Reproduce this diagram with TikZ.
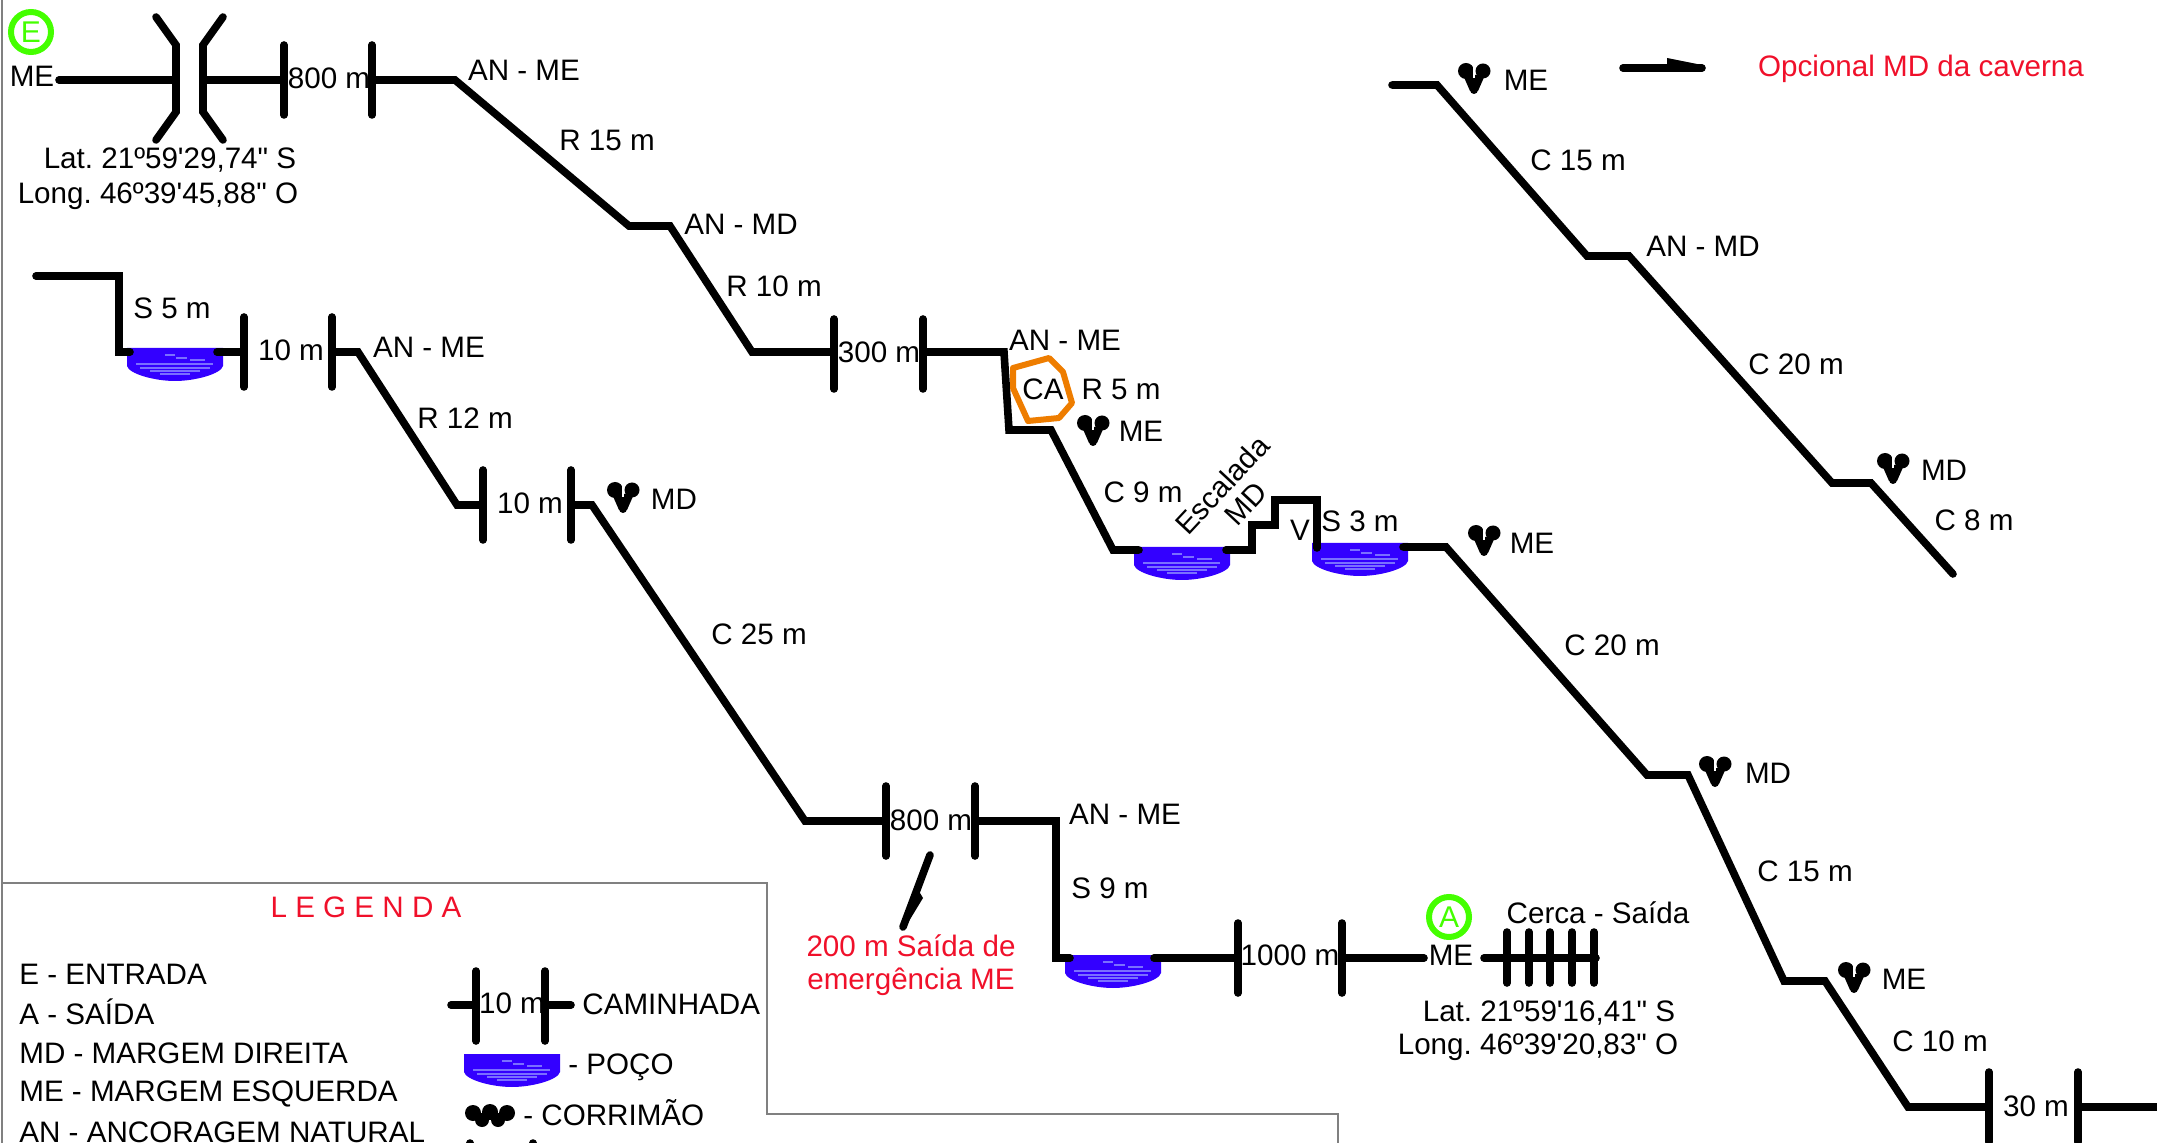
\documentclass[tikz,border=0pt]{standalone}
\usepackage{fontspec}
\setmainfont{Liberation Sans}[Ligatures=TeXOff]
\definecolor{aguaazul}{HTML}{3300FF}
\definecolor{aguaclara}{HTML}{7A70FF}
\definecolor{marcoverde}{HTML}{44FF00}
\definecolor{vermelho}{HTML}{F0102A}
\definecolor{laranja}{HTML}{EE7D00}
\tikzstyle{edge} = [draw,line width=3.8pt,line cap=round,line join=miter]
\tikzstyle{frame} = [draw=black!50,line width=1pt]
\tikzstyle{txt}=[inner sep=0pt,font=\fontsize{14.8pt}{16pt}\selectfont]
\tikzstyle{txtred}=[txt,text=vermelho]
\tikzstyle{legenda}=[txt,anchor=west]
\tikzstyle{marco}=[circle,draw=marcoverde,line width=3pt,text=marcoverde,minimum size=20pt,inner sep=0pt,font=\fontsize{15pt}{16pt}\selectfont]
\tikzset{
  pics/poco/.style={code={
    \fill[aguaazul] (-48,0) -- (48,0) -- (48,18) .. controls (46,26) and (20,33) .. (0,33) .. controls (-20,33) and (-46,26) .. (-48,18) -- cycle;
    \foreach \ya/\xa/\xb in {7/-10/0, 10/1/12, 12/15/30, 16/-39/38, 20/-35/35, 23/-25/25, 26/-15/15}
        \draw[aguaclara,line width=0.7pt] (\xa,\ya) -- (\xb,\ya);
  }},
  pics/corrimao/.style={code={
    \fill (-8,-9) circle (8);
    \fill (9,-9) circle (7.5);
    \fill (-11,-5) -- (11,-5) -- (4,11) -- (-4,11) -- cycle;
    \fill (0,10) circle (4);
    \draw[white,line width=0.6pt] (0,-15) -- (0,-2);
  }}
}
\begin{document}
\frenchspacing
\begin{tikzpicture}[x=0.5pt,y=-0.5pt]
    \useasboundingbox (0,0) rectangle (2157,1143);
    % First we draw the legend frame
    \foreach \pos/\name in {{(2,0)/f1}, {(2,1143)/f2}, {(2,883)/f3}, {(767,883)/f4}, {(767,1114)/f5}, {(1338,1114)/f6}, {(1338,1143)/f7}}
        \node[coordinate] (\name) at \pos {};
    \path[frame] (f1) -- (f2);
    \path[frame] (f3) -- (f4) -- (f5) -- (f6) -- (f7);
    % The pools go under the lines
    \foreach \pos in {{(175,348)}, {(1182,547)}, {(1360,543)}, {(1113,955)}, {(512,1054)}}
        \pic at \pos {poco};
    % Corners of the main route
    \foreach \pos/\name in {{(59,80)/e1}, {(176,80)/e2}, {(203,80)/e3}, {(284,80)/e4}, {(372,80)/e5}, {(455,80)/e6},
        {(629,226)/e7}, {(670,226)/e8}, {(752,352)/e9}, {(834,352)/e10}, {(923,352)/e11}, {(1004,352)/e12},
        {(1009,430)/e13}, {(1051,430)/e14}, {(1113,550)/e15}, {(1139,550)/e16}, {(1226,550)/e17}, {(1252,550)/e18},
        {(1252,525)/e19}, {(1275,525)/e20}, {(1275,500)/e21}, {(1317,500)/e22}, {(1317,548)/e23}, {(1403,547)/e24},
        {(1446,547)/e25}, {(1647,775)/e26}, {(1688,775)/e27}, {(1784,981)/e28}, {(1825,981)/e29}, {(1908,1107)/e30},
        {(1989,1107)/e31}, {(2078,1107)/e32}, {(2160,1107)/e33}}
        \node[coordinate] (\name) at \pos {};
    % Corners of the left route
    \foreach \pos/\name in {{(36,276)/b1}, {(119,276)/b2}, {(119,352)/b3}, {(130,352)/b4}, {(217,352)/b5}, {(244,352)/b6},
        {(332,352)/b7}, {(358,352)/b8}, {(457,505)/b9}, {(483,505)/b10}, {(571,505)/b11}, {(592,505)/b12},
        {(805,821)/b13}, {(886,821)/b14}, {(975,821)/b15}, {(1056,821)/b16}, {(1056,958)/b17}, {(1070,958)/b18},
        {(1154,958)/b19}, {(1238,958)/b20}, {(1342,958)/b21}, {(1424,958)/b22}, {(1484,958)/b23}, {(1596,958)/b24}}
        \node[coordinate] (\name) at \pos {};
    % Corners of the right route
    \foreach \pos/\name in {{(1392,85)/d1}, {(1437,85)/d2}, {(1587,256)/d3}, {(1629,256)/d4}, {(1832,483)/d5}, {(1871,483)/d6}, {(1953,574)/d7}}
        \node[coordinate] (\name) at \pos {};
    % Short strokes and the legend sample
    \foreach \pos/\name in {{(156,17)/g1}, {(176,45)/g2}, {(176,112)/g3}, {(156,140)/g4}, {(223,17)/g5}, {(203,45)/g6}, {(203,112)/g7}, {(223,140)/g8},
        {(930,855)/s1}, {(903,927)/s2}, {(1623,68)/o1}, {(1702,68)/o2},
        {(451,1005)/l1}, {(476,1005)/l2}, {(545,1005)/l3}, {(571,1005)/l4}}
        \node[coordinate] (\name) at \pos {};
    % Connect the corners
    \path[edge] (e1) -- (e2);
    \path[edge] (e3) -- (e4);
    \path[edge] (e5) -- (e6) -- (e7) -- (e8) -- (e9) -- (e10);
    \path[edge] (e11) -- (e12) -- (e13) -- (e14) -- (e15) -- (e16);
    \path[edge] (e17) -- (e18) -- (e19) -- (e20) -- (e21) -- (e22) -- (e23);
    \path[edge] (e24) -- (e25) -- (e26) -- (e27) -- (e28) -- (e29) -- (e30) -- (e31);
    \path[edge] (e32) -- (e33);
    \path[edge] (b1) -- (b2) -- (b3) -- (b4);
    \path[edge] (b5) -- (b6);
    \path[edge] (b7) -- (b8) -- (b9) -- (b10);
    \path[edge] (b11) -- (b12) -- (b13) -- (b14);
    \path[edge] (b15) -- (b16) -- (b17) -- (b18);
    \path[edge] (b19) -- (b20);
    \path[edge] (b21) -- (b22);
    \path[edge] (b23) -- (b24);
    \path[edge] (d1) -- (d2) -- (d3) -- (d4) -- (d5) -- (d6) -- (d7);
    \path[edge] (g1) -- (g2) -- (g3) -- (g4);
    \path[edge] (g5) -- (g6) -- (g7) -- (g8);
    \path[edge] (s1) -- (s2);
    \fill (917,888) -- (923,898) -- (906,926) -- cycle;
    \path[edge] (o1) -- (o2);
    \fill (1667,58) -- (1702,65) -- (1667,70) -- cycle;
    \path[edge] (l1) -- (l2);
    \path[edge] (l3) -- (l4);
    % Walking marks
    \foreach \x/\y in {284/80, 372/80, 834/354, 923/354, 244/352, 332/352, 483/505, 571/505, 886/821, 975/821, 1238/958, 1342/958, 1989/1107, 2078/1107, 476/1006, 545/1006}
        \path[edge] (\x,\y-35) -- (\x,\y+35);
    % The fence
    \foreach \x in {1507,1529,1550,1572,1594}
        \path[edge] (\x,932) -- (\x,983);
    % Cut off marks at the foot of the legend
    \foreach \x in {470,533}
        \path[edge] (\x,1143) -- (\x,1146);
    % Handrails
    \foreach \pos in {{(1093,432)}, {(1484,542)}, {(1715,773)}, {(1854,979)}, {(1474,80)}, {(1893,470)}, {(623,499)}}
        \pic at \pos {corrimao};
    \foreach \x/\y/\r in {473/1113/8, 490/1112/8, 507/1113/8, 482/1120/7, 498/1120/7}
        \fill (\x,\y) circle (\r);
    % Cave anchor ring
    \path[draw=laranja,line width=3pt,line join=round] (1013,368) -- (1049,358) -- (1063,372) -- (1072,403) -- (1059,418) -- (1028,421) -- (1013,388) -- cycle;
    % Entry and exit
    \node[marco] (entrada) at (31,32) {E};
    \node[marco] (saida) at (1449,917) {A};
    % Labels of the routes
    \foreach \pos/\name/\txt in {{(32,76)/mea/ME}, {(329,78)/cam1/800 m}, {(524,70)/ana/AN - ME}, {(170,160)/lata/{Lat. 21º59'29,74" S}},
        {(158,196)/longa/{Long. 46º39'45,88" O}}, {(607,140)/r15/R 15 m}, {(741,224)/anb/AN - MD}, {(774,286)/r10/R 10 m},
        {(879,352)/cam2/300 m}, {(1065,340)/anc/AN - ME}, {(1043,389)/ca/CA}, {(1121,389)/r5/R 5 m}, {(1141,431)/meb/ME},
        {(1143,492)/c9/C 9 m}, {(1300,530)/vv/V}, {(1360,521)/s3m/S 3 m}, {(1532,543)/mec/ME}, {(1612,645)/c20a/C 20 m},
        {(1768,773)/mda/MD}, {(1805,871)/c15a/C 15 m}, {(1904,979)/med/ME}, {(1940,1041)/c10/C 10 m}, {(2036,1106)/cam3/30 m},
        {(172,308)/s5/S 5 m}, {(291,350)/cam4/10 m}, {(429,347)/and/AN - ME}, {(465,418)/r12/R 12 m}, {(530,503)/cam5/10 m},
        {(674,499)/mdb/MD}, {(759,634)/c25/C 25 m}, {(931,820)/cam6/800 m}, {(1125,814)/ane/AN - ME}, {(1110,888)/s9/S 9 m},
        {(1290,955)/cam7/1000 m}, {(1451,955)/mee/ME}, {(1598,913)/cerca/Cerca - Saída}, {(1549,1013)/latb/{Lat. 21º59'16,41" S}},
        {(1538,1047)/longb/{Long. 46º39'20,83" O}}, {(1526,80)/mef/ME}, {(1578,160)/c15b/C 15 m}, {(1703,246)/anf/AN - MD},
        {(1796,364)/c20b/C 20 m}, {(1944,470)/mdc/MD}, {(1974,520)/c8/C 8 m}, {(512,1003)/cam8/10 m}}
        \node[txt] (\name) at \pos {\txt};
    \node[txt,rotate=47] (escalada) at (1222,485) {Escalada};
    \node[txt,rotate=47] (escmd) at (1246,504) {MD};
    % Red notes
    \foreach \pos/\name/\txt in {{(1921,69)/opcional/Opcional MD da caverna}, {(911,946)/emerga/200 m Saída de}, {(911,982)/emergb/emergência ME}, {(366,907)/titulo/L E G E N D A}}
        \node[txtred] (\name) at \pos {\txt};
    % Legend texts
    \foreach \pos/\name/\txt in {{(19,974)/lege/E - ENTRADA}, {(19,1012)/lega/A - SAÍDA}, {(19,1053)/legmd/MD - MARGEM DIREITA},
        {(19,1094)/legme/ME - MARGEM ESQUERDA}, {(19,1132)/legan/AN - ANCORAGEM NATURAL}, {(582,1004)/legcam/CAMINHADA},
        {(568,1067)/legpoco/- POÇO}, {(523,1113)/legcor/- CORRIMÃO}}
        \node[legenda] (\name) at \pos {\txt};
\end{tikzpicture}
\end{document}
